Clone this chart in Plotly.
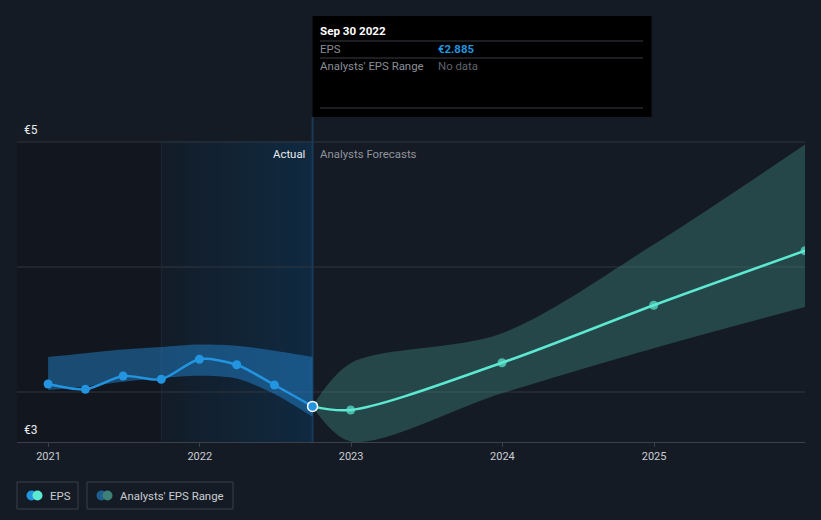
import plotly.graph_objects as go
import pandas as pd

# ---- data ----
actual_dates = ["2020-12-31", "2021-03-31", "2021-06-30", "2021-09-30",
                "2021-12-31", "2022-03-31", "2022-06-30", "2022-09-30"]
actual_eps = [3.064, 3.022, 3.128, 3.102, 3.262, 3.218, 3.056, 2.885]
actual_band_high = [3.28, 3.31, 3.34, 3.36, 3.38, 3.37, 3.33, 3.28]
actual_band_low = [3.016, 3.045, 3.083, 3.112, 3.13, 3.108, 2.984, 2.802]

forecast_dates = ["2022-09-30", "2022-12-31", "2023-12-31", "2024-12-31", "2025-12-31"]
forecast_eps = [2.885, 2.856, 3.234, 3.694, 4.130]
forecast_high = [2.885, 3.23, 3.47, 4.18, 4.98]
forecast_low = [2.885, 2.605, 2.99, 3.35, 3.68]

x_range = ["2020-10-17", "2025-12-31"]
y_range = [2.6, 5.008]
gridlines = [3, 4, 5]
highlight_start = "2021-09-30"
tick_years = ["2021-01-01", "2022-01-01", "2023-01-01", "2024-01-01", "2025-01-01"]
tick_labels = ["2021", "2022", "2023", "2024", "2025"]

BG = "#151b24"
BLUE = "#2394df"
TEAL = "#5ce8d1"
FONT = "Roboto"

# plot area in pixels
L, R, T, B = 17, 805, 141, 442
W, H = 821, 520


def px(x):
    return (x - L) / (R - L)


def py(y):
    return (B - y) / (B - T)


fig = go.Figure()

# past band
fig.add_trace(go.Scatter(x=actual_dates, y=actual_band_low, mode="lines",
                         line=dict(width=0, shape="spline", smoothing=0.8),
                         hoverinfo="skip", showlegend=False))
fig.add_trace(go.Scatter(x=actual_dates, y=actual_band_high, mode="lines",
                         line=dict(width=0, shape="spline", smoothing=0.8),
                         fill="tonexty", fillcolor="rgba(35,140,220,0.45)",
                         hoverinfo="skip", showlegend=False))

# forecast band
fig.add_trace(go.Scatter(x=forecast_dates, y=forecast_low, mode="lines",
                         line=dict(width=0, shape="spline", smoothing=0.9),
                         hoverinfo="skip", showlegend=False))
fig.add_trace(go.Scatter(x=forecast_dates, y=forecast_high, mode="lines",
                         line=dict(width=0, shape="spline", smoothing=0.9),
                         fill="tonexty", fillcolor="rgba(72,160,150,0.33)",
                         hoverinfo="skip", showlegend=False))

# forecast line
fig.add_trace(go.Scatter(x=forecast_dates, y=forecast_eps, mode="lines+markers",
                         line=dict(color=TEAL, width=2.5, shape="spline", smoothing=0.9),
                         marker=dict(color=TEAL, size=[0, 9, 9, 9, 9], line=dict(width=0)),
                         hoverinfo="skip", showlegend=False))

# actual line
fig.add_trace(go.Scatter(x=actual_dates, y=actual_eps, mode="lines+markers",
                         line=dict(color=BLUE, width=2.5, shape="spline", smoothing=0.8),
                         marker=dict(color=BLUE, size=9, line=dict(width=0)),
                         hoverinfo="skip", showlegend=False))

# hovered point
fig.add_trace(go.Scatter(x=[actual_dates[-1]], y=[actual_eps[-1]], mode="markers",
                         marker=dict(color=BLUE, size=10,
                                     line=dict(color="white", width=1.5)),
                         hoverinfo="skip", showlegend=False))

shapes = []
last_actual = actual_dates[-1]
# darker left region
shapes.append(dict(type="rect", xref="x", x0=x_range[0], x1=highlight_start,
                   yref="paper", y0=0, y1=1, fillcolor="#12161e",
                   line=dict(width=0), layer="below"))
# blue gradient highlight (approximated by overlapping strips, no seams)
n_strips = 40
edges = pd.date_range(highlight_start, last_actual, periods=n_strips + 1)
c0 = (0x13, 0x1c, 0x28)
c1 = (0x10, 0x2a, 0x41)
for i in range(n_strips):
    t = (i + 0.5) / n_strips
    col = "rgb({},{},{})".format(*[round(a + (b - a) * t) for a, b in zip(c0, c1)])
    shapes.append(dict(type="rect", xref="x", x0=edges[i], x1=last_actual,
                       yref="paper", y0=0, y1=1, fillcolor=col,
                       line=dict(width=0), layer="below"))
# gridlines
for gy in gridlines:
    shapes.append(dict(type="line", xref="paper", x0=0, x1=1, yref="y", y0=gy, y1=gy,
                       line=dict(color="#30363f", width=1), layer="below"))
# faint line at highlight start
shapes.append(dict(type="line", xref="x", x0=highlight_start, x1=highlight_start,
                   yref="paper", y0=0, y1=1, line=dict(color="#1c2836", width=1),
                   layer="below"))
# vertical hover line
shapes.append(dict(type="line", xref="x", x0=last_actual, x1=last_actual,
                   yref="paper", y0=0, y1=py(117), line=dict(color="#17395a", width=2),
                   layer="below"))
# tooltip box
shapes.append(dict(type="rect", xref="x", xsizemode="pixel", xanchor=last_actual,
                   x0=0, x1=339, yref="paper", y0=py(117), y1=py(16),
                   fillcolor="#000000", line=dict(width=0)))
for ly in [41, 58, 108]:
    shapes.append(dict(type="line", xref="paper", x0=px(320), x1=px(643),
                       yref="paper", y0=py(ly), y1=py(ly),
                       line=dict(color="#3a3d42", width=1)))

# legend boxes
shapes.append(dict(type="rect", xref="paper", yref="paper",
                   x0=px(17), x1=px(78), y0=py(509), y1=py(482),
                   line=dict(color="#3a404a", width=1), fillcolor="rgba(0,0,0,0)"))
shapes.append(dict(type="rect", xref="paper", yref="paper",
                   x0=px(87), x1=px(233), y0=py(509), y1=py(482),
                   line=dict(color="#3a404a", width=1), fillcolor="rgba(0,0,0,0)"))
for cx, col in [(31.5, BLUE), (37.5, TEAL), (101.5, "#1f5f8f"), (107.5, "#3c8078")]:
    shapes.append(dict(type="circle", xref="paper", yref="paper",
                       xsizemode="pixel", ysizemode="pixel",
                       xanchor=px(cx), yanchor=py(495.5),
                       x0=-5, x1=5, y0=-5, y1=5,
                       fillcolor=col, line=dict(width=0)))

ann = []


def text(x, y, s, color, size=11.4, xanchor="left", bold=False):
    ann.append(dict(xref="paper", yref="paper", x=px(x), y=py(y),
                    text=f"<b>{s}</b>" if bold else s, showarrow=False,
                    xanchor=xanchor, yanchor="middle", xshift=-2 if xanchor == "left" else 2,
                    font=dict(family=FONT, size=size, color=color)))


text(24, 130, "€5", "#e8eaed", size=12)
text(24, 430, "€3", "#e8eaed", size=12)
text(305, 154, "Actual", "#e8eaed")
ann[-1].update(xanchor="right", xshift=2)
text(320, 154, "Analysts Forecasts", "#8f949c")
text(320, 31, "Sep 30 2022", "#ffffff", size=11.6, bold=True)
text(320, 49, "EPS", "#8a8e95")
text(438, 49, "€2.885", BLUE, bold=True)
text(320, 66, "Analysts' EPS Range", "#8a8e95")
text(438, 66, "No data", "#5f636a")
text(50, 495.5, "EPS", "#c9cdd3")
text(120, 495.5, "Analysts' EPS Range", "#c9cdd3")

fig.update_layout(
    width=W, height=H,
    margin=dict(l=L, r=W - R, t=T, b=H - B),
    paper_bgcolor=BG, plot_bgcolor=BG,
    showlegend=False,
    shapes=shapes, annotations=ann,
    font=dict(family=FONT),
    xaxis=dict(type="date", range=x_range, showgrid=False, zeroline=False,
               tickvals=tick_years, ticktext=tick_labels,
               ticks="outside", ticklen=4, tickcolor="#3b414b",
               showline=True, linecolor="#3b414b", linewidth=1,
               tickfont=dict(family=FONT, size=11, color="#c9cdd3")),
    yaxis=dict(range=y_range, showgrid=False, zeroline=False,
               showticklabels=False, ticks=""),
)

fig.write_html("out.html", config={"displayModeBar": False},
               post_script="document.body.style.margin='0';document.body.style.overflow='hidden';")
